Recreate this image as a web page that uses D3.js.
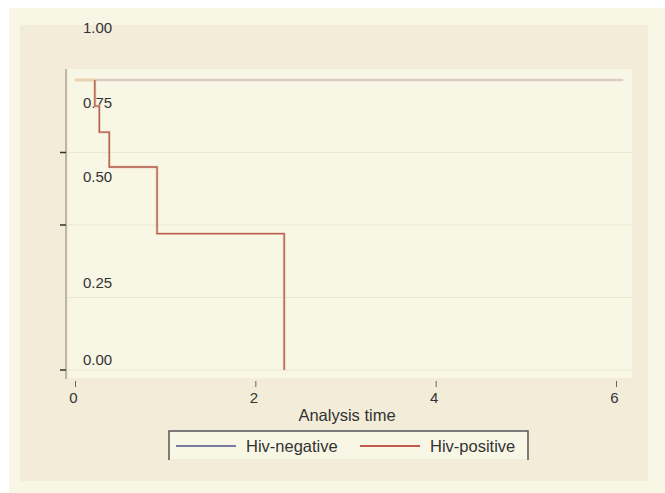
<!DOCTYPE html>
<html><head><meta charset="utf-8">
<script src="https://cdn.jsdelivr.net/npm/d3@7"></script>
<style>body{margin:0;background:#fff}svg{display:block}text{font-family:"Liberation Sans",Arial,sans-serif;fill:#333}</style>
</head><body>
<script>
// Data
const negTimes = [0, 6.08];
const negSurv = [1, 1];
const posTimes = [0, 0.22, 0.27, 0.38, 0.91, 2.32];
const posSurv = [1, 0.91, 0.82, 0.70, 0.47, 0];
const xTicks = [0, 2, 4, 6];
const yTicks = [0, 0.25, 0.5, 0.75, 1];
const yTickLabels = ["0.00", "0.25", "0.50", "0.75", "1.00"];
const yTickMarks = [0, 0.5, 0.75];
const seriesNames = ["Hiv-negative", "Hiv-positive"];
const legendColors = ["#7b7ba3", "#c05a4f"];
const xTitle = "Analysis time";

const W = 665, H = 493;
const svg = d3.select("body").append("svg").attr("width", W).attr("height", H);
svg.append("rect").attr("x", 9).attr("y", 8).attr("width", W - 9).attr("height", H - 8).attr("fill", "#f8f6e5");
svg.append("rect").attr("x", 20).attr("y", 25).attr("width", 628).attr("height", 456).attr("fill", "#f2ecd9");
svg.append("rect").attr("x", 68).attr("y", 69).attr("width", 564).attr("height", 309).attr("fill", "#f8f6e5");

const x = d3.scaleLinear().domain([0, 6]).range([75, 616]);
const y = d3.scaleLinear().domain([0, 1]).range([370, 80]);

// gridlines
svg.append("g").selectAll("line").data(yTicks.filter(d => d < 1)).join("line")
  .attr("x1", 68).attr("x2", 632).attr("y1", d => y(d)).attr("y2", d => y(d))
  .attr("stroke", "#ece6d3").attr("stroke-width", 1.2);

// y axis line
svg.append("line").attr("x1", 66).attr("x2", 66).attr("y1", 69).attr("y2", 379)
  .attr("stroke", "#bdb5a5").attr("stroke-width", 2);
// y tick marks
svg.append("g").selectAll("line").data(yTickMarks).join("line")
  .attr("x1", 60).attr("x2", 66).attr("y1", d => y(d)).attr("y2", d => y(d))
  .attr("stroke", "#333").attr("stroke-width", 1.5);
// y tick labels (rendered displaced as in the reference)
const labelShift = { 0: -10, 0.25: -15, 0.5: -48, 0.75: -50, 1: -52 };
svg.append("g").selectAll("text").data(yTicks).join("text")
  .attr("x", 83).attr("y", d => y(d) + labelShift[d]).attr("dy", "0.35em")
  .attr("font-size", 15).text((d, i) => yTickLabels[i]);

// x axis
const xAxis = d3.axisBottom(x).tickValues(xTicks).tickSize(6).tickPadding(5).tickFormat(d3.format("d"));
const gx = svg.append("g").attr("transform", "translate(0,381)").call(xAxis);
gx.select(".domain").remove();
gx.selectAll(".tick line").attr("stroke", "#666").attr("stroke-width", 1);
gx.selectAll(".tick text").attr("font-size", 15).attr("fill", "#333")
  .attr("font-family", "Liberation Sans, Arial, sans-serif").attr("dx", -2);
svg.append("text").attr("x", 347).attr("y", 415).attr("dy", "0.35em").attr("text-anchor", "middle")
  .attr("font-size", 16.5).text(xTitle);

// lines
const line = d3.line().x(d => x(d[0])).y(d => y(d[1])).curve(d3.curveStepAfter);
const negData = negTimes.map((t, i) => [t, negSurv[i]]);
const posData = posTimes.map((t, i) => [t, posSurv[i]]);
svg.append("path").attr("d", line(negData)).attr("fill", "none")
  .attr("stroke", "#dccdc8").attr("stroke-width", 2.5);
svg.append("path").attr("d", line(posData.slice(0, 2))).attr("fill", "none")
  .attr("stroke", "#ecd2ac").attr("stroke-width", 2.5);
const posSteps = [[posTimes[1], 1]].concat(posData.slice(1));
svg.append("path").attr("d", line(posSteps)).attr("fill", "none")
  .attr("stroke", "#ebc7ad").attr("stroke-width", 2.6);
svg.append("path").attr("d", line(posSteps)).attr("fill", "none")
  .attr("stroke", "#b2604f").attr("stroke-width", 1.3);

// legend
const lg = svg.append("g");
lg.append("rect").attr("x", 169).attr("y", 431).attr("width", 359).attr("height", 28).attr("fill", "#f8f6e5");
lg.append("path").attr("d", "M169,460V431H528V460").attr("fill", "none").attr("stroke", "#555").attr("stroke-width", 1.5);
const lx = [176, 360];
seriesNames.forEach((n, i) => {
  lg.append("line").attr("x1", lx[i]).attr("x2", lx[i] + 60).attr("y1", 446).attr("y2", 446)
    .attr("stroke", legendColors[i]).attr("stroke-width", 1.8);
  lg.append("text").attr("x", lx[i] + 70).attr("y", 446).attr("dy", "0.35em").attr("font-size", 16.5).text(n);
});
</script>
</body></html>
